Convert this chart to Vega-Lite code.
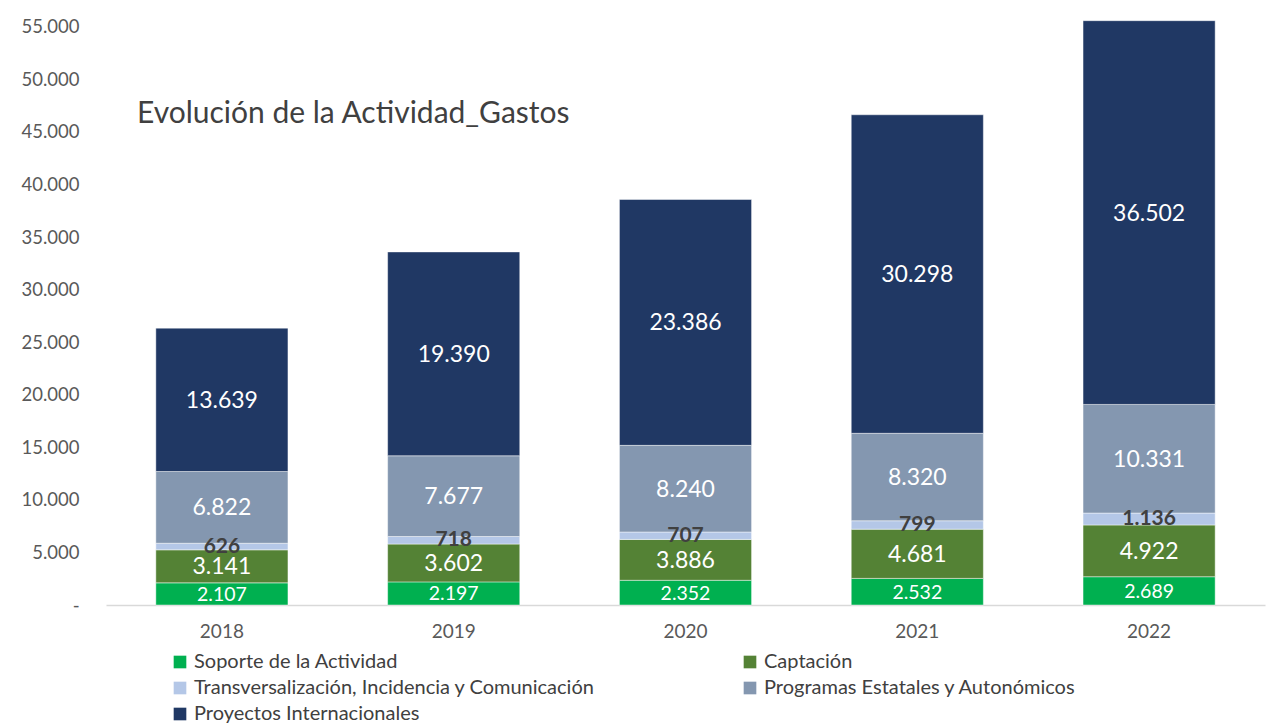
{
  "$schema": "https://vega.github.io/schema/vega-lite/v6.json",
  "autosize": "none",
  "width": 1159,
  "height": 594,
  "padding": {"left": 106, "top": 11, "right": 16, "bottom": 120},
  "background": "#ffffff",
  "config": {
    "view": {"stroke": null},
    "font": "Lato",
    "locale": {"number": {"decimal": ",", "thousands": ".", "grouping": [3], "currency": ["", " €"]}}
  },
  "title": {
    "text": "Evolución de la Actividad_Gastos",
    "anchor": "start",
    "frame": "group",
    "orient": "top",
    "baseline": "middle",
    "offset": 0,
    "dx": 31,
    "dy": 133,
    "fontSize": 30,
    "fontWeight": "normal",
    "color": "#404040",
    "font": "Lato"
  },
  "data": {
    "values": [
      {"year": "2018", "cat": "Soporte de la Actividad", "ord": 1, "value": 2107},
      {"year": "2018", "cat": "Captación", "ord": 2, "value": 3141},
      {"year": "2018", "cat": "Transversalización, Incidencia y Comunicación", "ord": 3, "value": 626},
      {"year": "2018", "cat": "Programas Estatales y Autonómicos", "ord": 4, "value": 6822},
      {"year": "2018", "cat": "Proyectos Internacionales", "ord": 5, "value": 13639},
      {"year": "2019", "cat": "Soporte de la Actividad", "ord": 1, "value": 2197},
      {"year": "2019", "cat": "Captación", "ord": 2, "value": 3602},
      {"year": "2019", "cat": "Transversalización, Incidencia y Comunicación", "ord": 3, "value": 718},
      {"year": "2019", "cat": "Programas Estatales y Autonómicos", "ord": 4, "value": 7677},
      {"year": "2019", "cat": "Proyectos Internacionales", "ord": 5, "value": 19390},
      {"year": "2020", "cat": "Soporte de la Actividad", "ord": 1, "value": 2352},
      {"year": "2020", "cat": "Captación", "ord": 2, "value": 3886},
      {"year": "2020", "cat": "Transversalización, Incidencia y Comunicación", "ord": 3, "value": 707},
      {"year": "2020", "cat": "Programas Estatales y Autonómicos", "ord": 4, "value": 8240},
      {"year": "2020", "cat": "Proyectos Internacionales", "ord": 5, "value": 23386},
      {"year": "2021", "cat": "Soporte de la Actividad", "ord": 1, "value": 2532},
      {"year": "2021", "cat": "Captación", "ord": 2, "value": 4681},
      {"year": "2021", "cat": "Transversalización, Incidencia y Comunicación", "ord": 3, "value": 799},
      {"year": "2021", "cat": "Programas Estatales y Autonómicos", "ord": 4, "value": 8320},
      {"year": "2021", "cat": "Proyectos Internacionales", "ord": 5, "value": 30298},
      {"year": "2022", "cat": "Soporte de la Actividad", "ord": 1, "value": 2689},
      {"year": "2022", "cat": "Captación", "ord": 2, "value": 4922},
      {"year": "2022", "cat": "Transversalización, Incidencia y Comunicación", "ord": 3, "value": 1136},
      {"year": "2022", "cat": "Programas Estatales y Autonómicos", "ord": 4, "value": 10331},
      {"year": "2022", "cat": "Proyectos Internacionales", "ord": 5, "value": 36502}
    ]
  },
  "encoding": {
    "x": {
      "field": "year",
      "type": "nominal",
      "scale": {"paddingInner": 0.43, "paddingOuter": 0.215},
      "axis": {
        "title": null,
        "labelAngle": 0,
        "labelFontSize": 19,
        "labelColor": "#595959",
        "labelPadding": 17,
        "ticks": false,
        "domainColor": "#D9D9D9",
        "domainWidth": 1.5
      }
    },
    "y": {
      "field": "value",
      "type": "quantitative",
      "stack": "zero",
      "scale": {"domain": [0, 56500], "nice": false},
      "axis": {
        "title": null,
        "values": [0, 5000, 10000, 15000, 20000, 25000, 30000, 35000, 40000, 45000, 50000, 55000],
        "labelExpr": "datum.value === 0 ? '-\u00a0\u00a0\u00a0' : replace(format(datum.value, ','), ',', '.')",
        "labelFontSize": 18.5,
        "labelColor": "#595959",
        "labelPadding": 27,
        "ticks": false,
        "domain": false,
        "grid": false
      }
    },
    "order": {"field": "ord", "type": "quantitative"}
  },
  "layer": [
    {
      "mark": {"type": "bar", "stroke": "#ffffff", "strokeWidth": 0.75, "strokeOpacity": 0.6},
      "encoding": {
        "color": {
          "field": "cat",
          "type": "nominal",
          "scale": {
            "domain": ["Soporte de la Actividad", "Captación", "Transversalización, Incidencia y Comunicación", "Programas Estatales y Autonómicos", "Proyectos Internacionales"],
            "range": ["#00B050", "#548235", "#B4C7E7", "#8497B0", "#203864"]
          },
          "legend": {
            "title": null,
            "orient": "none",
            "direction": "horizontal",
            "legendX": 64,
            "legendY": 641,
            "columns": 2,
            "columnPadding": 145,
            "rowPadding": 6,
            "symbolType": "square",
            "symbolSize": 160,
            "symbolStrokeWidth": 0,
            "symbolOpacity": 1,
            "labelFontSize": 20,
            "labelColor": "#404040",
            "labelLimit": 700,
            "labelOffset": 4
          }
        }
      }
    },
    {
      "mark": {"type": "text", "color": "#ffffff", "baseline": "middle", "dy": 1},
      "encoding": {
        "y": {"field": "value", "type": "quantitative", "stack": "zero", "bandPosition": 0.5},
        "text": {"field": "value", "type": "quantitative", "format": ",d"},
        "size": {"condition": {"test": "datum.ord === 1", "value": 19.5}, "value": 23},
        "opacity": {"condition": {"test": "datum.ord === 3", "value": 0}, "value": 1}
      }
    },
    {
      "mark": {"type": "text", "color": "#404040", "fontWeight": "bold", "baseline": "middle", "dy": 0},
      "encoding": {
        "y": {"field": "value", "type": "quantitative", "stack": "zero", "bandPosition": 0.5},
        "text": {"field": "value", "type": "quantitative", "format": ",d"},
        "size": {"value": 21},
        "opacity": {"condition": {"test": "datum.ord === 3", "value": 1}, "value": 0}
      }
    }
  ]
}
